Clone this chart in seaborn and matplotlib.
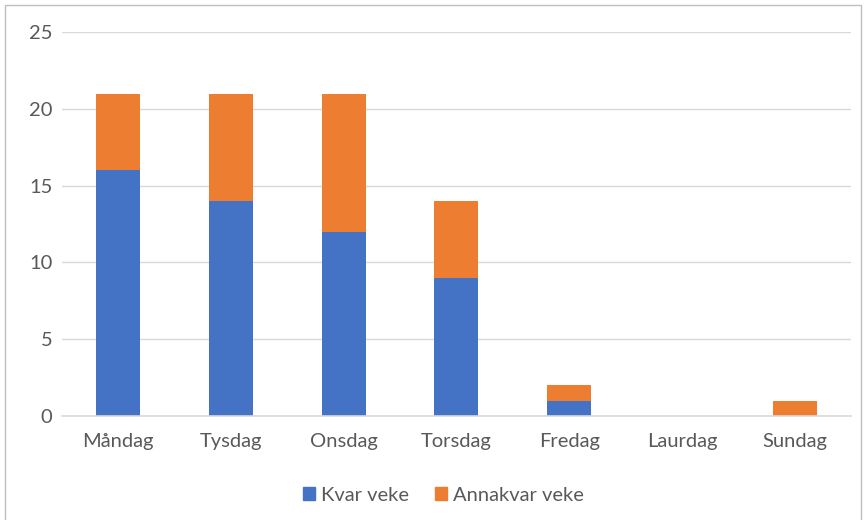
import pandas as pd
import matplotlib.pyplot as plt
import seaborn as sns
from matplotlib.patches import Rectangle, Patch

dagar = ["Måndag", "Tysdag", "Onsdag", "Torsdag", "Fredag", "Laurdag", "Sundag"]
kvar_veke = [16, 14, 12, 9, 1, 0, 0]
annakvar_veke = [5, 7, 9, 5, 1, 0, 1]

blaa = "#4472C4"
oransje = "#ED7D31"
tekst = "#595959"

df = pd.DataFrame({"dag": dagar, "kvar": kvar_veke, "annakvar": annakvar_veke})
df["total"] = df["kvar"] + df["annakvar"]

sns.set_style("white")
plt.rcParams["font.family"] = ["Lato", "DejaVu Sans"]

fig = plt.figure(figsize=(8.66, 5.2), dpi=100)
ax = fig.add_axes([0.0716, 0.2, 0.911, 0.738])

# stabla: totalen i oransje under, kvar veke i blått oppå
sns.barplot(data=df, x="dag", y="total", color=oransje, width=0.39,
            saturation=1, ax=ax, linewidth=0)
sns.barplot(data=df, x="dag", y="kvar", color=blaa, width=0.39,
            saturation=1, ax=ax, linewidth=0)

ax.set_ylim(0, 25)
ax.set_xlim(-0.5, len(dagar) - 0.5)
ax.set_yticks(range(0, 26, 5))
ax.yaxis.grid(True, color="#D9D9D9", linewidth=1)
ax.set_axisbelow(True)
for s in ["top", "right", "left"]:
    ax.spines[s].set_visible(False)
ax.spines["bottom"].set_color("#D9D9D9")
ax.spines["bottom"].set_linewidth(1.2)
ax.set_xlabel("")
ax.set_ylabel("")
ax.tick_params(axis="both", length=0, labelsize=14.5, labelcolor=tekst)
ax.tick_params(axis="x", pad=12)
ax.tick_params(axis="y", pad=7)

handles = [Patch(color=blaa, label="Kvar veke"), Patch(color=oransje, label="Annakvar veke")]
fig.legend(handles=handles, loc="center", bbox_to_anchor=(0.512, 0.048), ncol=2,
           frameon=False, fontsize=14.5, labelcolor=tekst, handlelength=0.6,
           handleheight=0.6, handletextpad=0.3, columnspacing=1.3)

fig.patches.append(Rectangle((0.006, -0.01), 0.988, 1.0, transform=fig.transFigure,
                             fill=False, edgecolor="#BFBFBF", linewidth=1))

fig.savefig("out.png", dpi=100)
